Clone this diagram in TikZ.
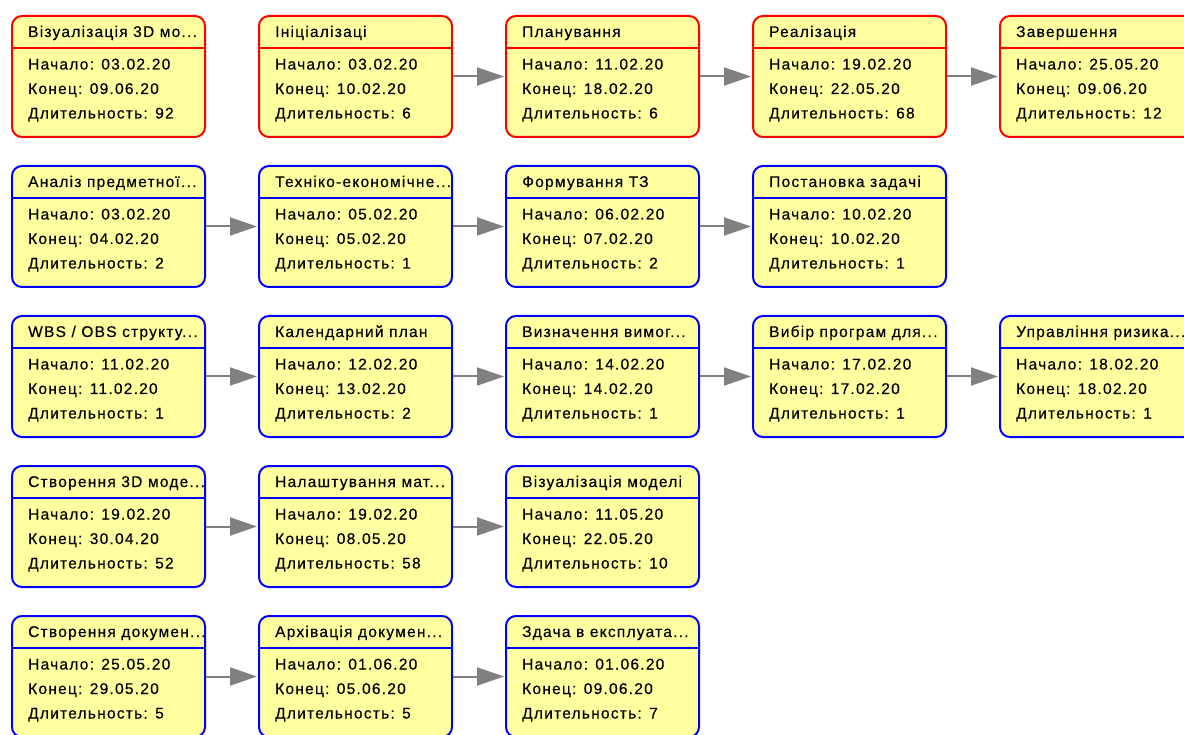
\documentclass[tikz,border=0pt]{standalone}
\usepackage{fontspec}
\setmainfont{Liberation Sans}[LetterSpace=8, FakeBold=0.4]
\usetikzlibrary{arrows.meta}

\definecolor{taskfill}{RGB}{255,255,160}
\definecolor{critical}{RGB}{255,0,0}
\definecolor{regular}{RGB}{0,0,255}
\definecolor{linkgray}{RGB}{128,128,128}

\tikzset{
  taskbox/.style={rectangle, draw=#1, line width=2pt, fill=taskfill,
    rounded corners=10pt, minimum width=193pt, minimum height=121pt,
    inner sep=0pt, anchor=north west},
  tasktext/.style={anchor=base west, inner sep=0pt, text=black,
    font=\fontsize{15.5}{17}\selectfont},
  link/.style={draw=linkgray, line width=2pt, shorten >=1pt,
    -{Triangle[length=27pt,width=18pt]}}
}

% \task{name}{x}{y}{colour}{title}{start}{end}{duration}
\newcommand\task[8]{%
  \node[taskbox=#4] (#1) at (#2,#3) {};
  \draw[#4, line width=1.5pt] ([yshift=-33pt]#1.north west) -- ([yshift=-33pt]#1.north east);
  \node[tasktext] (#1-title) at ([xshift=17pt,yshift=-22pt]#1.north west) {#5};
  \node[tasktext] (#1-start) at ([xshift=17pt,yshift=-54.5pt]#1.north west) {Начало: #6};
  \node[tasktext] (#1-end) at ([xshift=17pt,yshift=-79pt]#1.north west) {Конец: #7};
  \node[tasktext] (#1-dur) at ([xshift=17pt,yshift=-103.5pt]#1.north west) {Длительность: #8};
}

\begin{document}
\begin{tikzpicture}[x=1pt, y=-1pt]
  \useasboundingbox (0,0) rectangle (1184,735);
  \clip (0,0) rectangle (1184,735);

  % summary and phases
  \task{a1}{11}{15}{critical}{Візуалізація 3D мо...}{03.02.20}{09.06.20}{92}
  \task{a2}{258}{15}{critical}{Ініціалізаці}{03.02.20}{10.02.20}{6}
  \task{a3}{505}{15}{critical}{Планування}{11.02.20}{18.02.20}{6}
  \task{a4}{752}{15}{critical}{Реалізація}{19.02.20}{22.05.20}{68}
  \task{a5}{999}{15}{critical}{Завершення}{25.05.20}{09.06.20}{12}

  % initialisation tasks
  \task{b1}{11}{165}{regular}{Аналіз предметної...}{03.02.20}{04.02.20}{2}
  \task{b2}{258}{165}{regular}{Техніко-економічне...}{05.02.20}{05.02.20}{1}
  \task{b3}{505}{165}{regular}{Формування ТЗ}{06.02.20}{07.02.20}{2}
  \task{b4}{752}{165}{regular}{Постановка задачі}{10.02.20}{10.02.20}{1}

  % planning tasks
  \task{c1}{11}{315}{regular}{WBS / OBS структу...}{11.02.20}{11.02.20}{1}
  \task{c2}{258}{315}{regular}{Календарний план}{12.02.20}{13.02.20}{2}
  \task{c3}{505}{315}{regular}{Визначення вимог...}{14.02.20}{14.02.20}{1}
  \task{c4}{752}{315}{regular}{Вибір програм для...}{17.02.20}{17.02.20}{1}
  \task{c5}{999}{315}{regular}{Управління ризика...}{18.02.20}{18.02.20}{1}

  % implementation tasks
  \task{d1}{11}{465}{regular}{Створення 3D моде...}{19.02.20}{30.04.20}{52}
  \task{d2}{258}{465}{regular}{Налаштування мат...}{19.02.20}{08.05.20}{58}
  \task{d3}{505}{465}{regular}{Візуалізація моделі}{11.05.20}{22.05.20}{10}

  % completion tasks
  \task{e1}{11}{615}{regular}{Створення докумен...}{25.05.20}{29.05.20}{5}
  \task{e2}{258}{615}{regular}{Архівація докумен...}{01.06.20}{05.06.20}{5}
  \task{e3}{505}{615}{regular}{Здача в експлуата...}{01.06.20}{09.06.20}{7}

  % dependencies
  \draw[link] (a2) -- (a3);
  \draw[link] (a3) -- (a4);
  \draw[link] (a4) -- (a5);
  \draw[link] (b1) -- (b2);
  \draw[link] (b2) -- (b3);
  \draw[link] (b3) -- (b4);
  \draw[link] (c1) -- (c2);
  \draw[link] (c2) -- (c3);
  \draw[link] (c3) -- (c4);
  \draw[link] (c4) -- (c5);
  \draw[link] (d1) -- (d2);
  \draw[link] (d2) -- (d3);
  \draw[link] (e1) -- (e2);
  \draw[link] (e2) -- (e3);
\end{tikzpicture}
\end{document}
